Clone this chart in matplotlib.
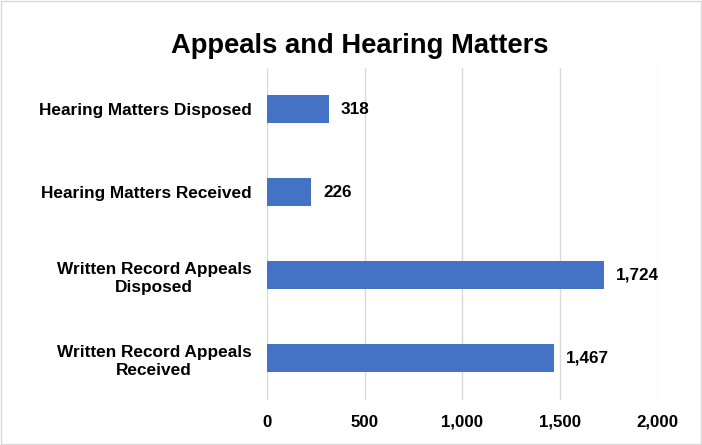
import matplotlib.pyplot as plt
from matplotlib.patches import Rectangle

plt.rcParams['font.family'] = ['Liberation Sans', 'DejaVu Sans']

# data, bottom to top
categories = ['Written Record Appeals\nReceived', 'Written Record Appeals\nDisposed',
              'Hearing Matters Received', 'Hearing Matters Disposed']
values = [1467, 1724, 226, 318]
x_ticks = [0, 500, 1000, 1500, 2000]

fig = plt.figure(figsize=(7.02, 4.45), dpi=100)
ax = fig.add_axes([0.380, 0.102, 0.557, 0.746])

bars = ax.barh(range(len(categories)), values, height=0.34, color='#4472C4', zorder=3)
for y, v in enumerate(values):
    ax.text(v + 62, y, f'{v:,}', va='center', ha='left', fontsize=12.3, fontweight='bold')

ax.set_xlim(0, 2000)
ax.set_ylim(-0.5, len(categories) - 0.5)
ax.set_xticks(x_ticks)
ax.set_xticklabels([f'{t:,}' for t in x_ticks], fontsize=12.2, fontweight='bold')
ax.set_yticks(range(len(categories)))
ax.set_yticklabels(categories, fontsize=12.4, fontweight='bold', linespacing=1.25)
for lbl in ax.get_yticklabels():
    lbl.set_multialignment('center')
ax.tick_params(length=0, pad=11, axis='y')
ax.tick_params(length=0, pad=11, axis='x')
ax.grid(axis='x', color='#D9D9D9', linewidth=1, zorder=0)
for s in ax.spines.values():
    s.set_visible(False)

fig.text(0.512, 0.897, 'Appeals and Hearing Matters', ha='center', va='center',
         fontsize=19.7, fontweight='bold')

fig.patches.append(Rectangle((0.002, 0.003), 0.996, 0.994, transform=fig.transFigure,
                             fill=False, edgecolor='#D9D9D9', linewidth=1))

fig.savefig('out.png', dpi=100)
